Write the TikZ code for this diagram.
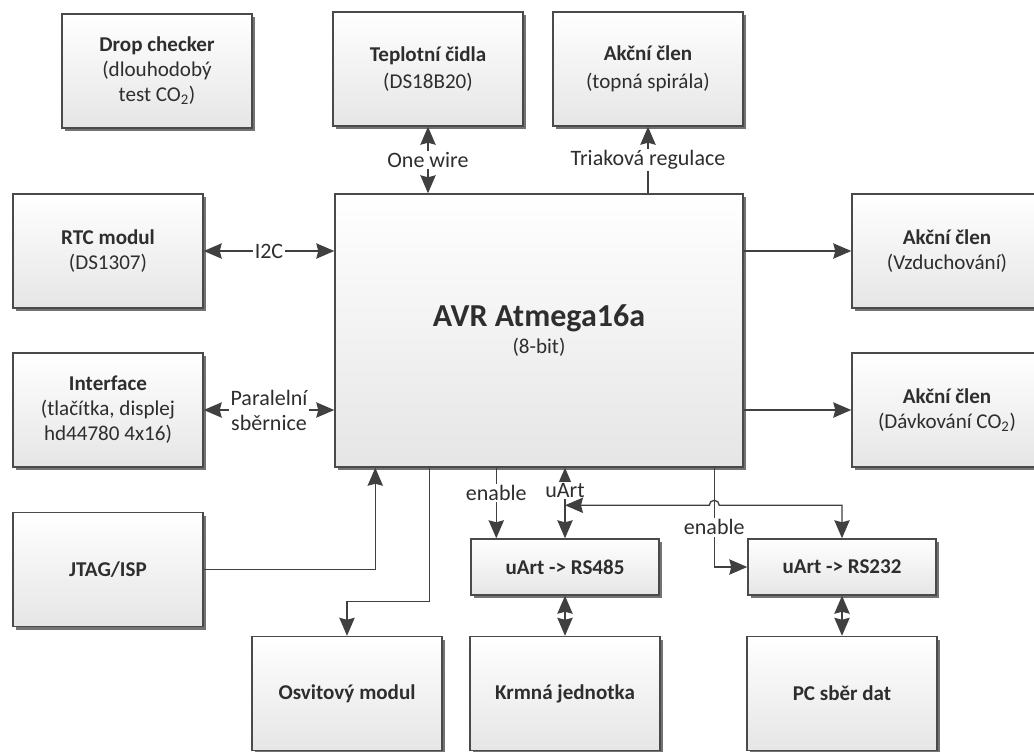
\documentclass[tikz,border=0pt]{standalone}
\usepackage{fontspec}
\setmainfont{Carlito}
\usetikzlibrary{arrows.meta,shadows,calc}
\definecolor{linec}{HTML}{404040}
\definecolor{bordc}{HTML}{4A4A4A}
\definecolor{textc}{HTML}{2E2E2E}
\begin{document}
\begin{tikzpicture}[x=0.75pt,y=-0.75pt,
  >={Stealth[length=13.5pt,width=11.5pt,inset=1.5pt]},
  box/.style={draw=bordc, line width=1.1pt, top color=white, bottom color=black!10,
    drop shadow={shadow xshift=2.4pt, shadow yshift=-2.4pt, opacity=1, fill=black!55},
    inner sep=0pt, align=center, text=textc, font=\fontsize{15.8}{18.8}\selectfont},
  wide/.style={box, minimum width=142.5pt, minimum height=85.5pt},
  conv/.style={box, minimum width=141pt, minimum height=42pt},
  cn/.style={draw=linec, line width=1pt},
  lbl/.style={fill=white, inner sep=1.2pt, text=textc, font=\fontsize{16.5}{18.8}\selectfont, align=center}]
\useasboundingbox (0,0) rectangle (1034,751);
\clip (0,0) rectangle (1034,751);
\fill[white] (0,0) rectangle (1034,751);

% nodes
\node[wide] (drop) at (157,71) {\textbf{Drop checker}\\(dlouhodobý\\test CO\textsubscript{2})};
\node[wide] (temp) at (428,69) {\textbf{Teplotní čidla}\\[2pt](DS18B20)};
\node[wide] (heat) at (648,69) {\textbf{Akční člen}\\[2pt](topná spirála)};
\node[wide] (rtc) at (108,251) {\textbf{RTC modul}\\(DS1307)};
\node[wide] (iface) at (108,410) {\textbf{Interface}\\(tlačítka, displej\\hd44780 4x16)};
\node[wide] (jtag) at (108,569.5) {\textbf{JTAG/ISP}};
\node[box, minimum width=306pt, minimum height=204.75pt] (avr) at (539,330.5)
  {{\fontsize{24}{28}\selectfont\bfseries AVR Atmega16a}\\[1pt](8-bit)};
\node[wide] (air) at (947,251) {\textbf{Akční člen}\\(Vzduchování)};
\node[wide] (co2) at (947,410) {\textbf{Akční člen}\\(Dávkování CO\textsubscript{2})};
\node[conv] (rs485) at (565,567) {\textbf{uArt -> RS485}};
\node[conv] (rs232) at (842,567) {\textbf{uArt -> RS232}};
\node[wide] (light) at (347,693.5) {\textbf{Osvitový modul}};
\node[wide] (feed) at (565,693.5) {\textbf{Krmná jednotka}};
\node[wide] (pc) at (842,693.5) {\textbf{PC sběr dat}};

% connectors
\draw[cn,<->] (temp.south) -- node[lbl]{One wire} (temp.south |- avr.north);
\draw[cn,->] (heat.south |- avr.north) -- node[lbl]{Triaková regulace} (heat.south);
\draw[cn,<->] (rtc.east) -- node[lbl]{I2C} (rtc.east -| avr.west);
\draw[cn,<->] (iface.east) -- node[lbl]{Paralelní\\sběrnice} (iface.east -| avr.west);
\draw[cn,->] (avr.east |- air.west) -- (air.west);
\draw[cn,->] (avr.east |- co2.west) -- (co2.west);
\draw[cn,->] (jtag.east) -| ($(avr.south west)+(41,0)$);
\draw[cn,->] ($(avr.south west)+(95,0)$) -- ++(0,134) -| (light.north);
\draw[cn,->] ($(avr.south west)+(162,0)$) -- node[lbl,pos=0.36]{enable} ($(rs485.north west)+(26,0)$);
\coordinate (u) at ($(rs485.north)+(0,-33)$);
\coordinate (en) at ($(avr.south west)+(380,0)$);
\draw[cn,->] (u) -- node[lbl,pos=0.4]{uArt} (u |- avr.south);
\draw[cn,->] (u) -- (rs485.north);
\draw[cn,<->] (u) -- ($(en |- u)+(-5,0)$) arc[start angle=180, end angle=360, radius=5] -- (rs232.north |- u) -- (rs232.north);
\draw[cn,->] (en) |- node[lbl,pos=0.3]{enable} (rs232.west);
\draw[cn,<->] (rs485.south) -- (feed.north);
\draw[cn,<->] (rs232.south) -- (pc.north);
\end{tikzpicture}
\end{document}
